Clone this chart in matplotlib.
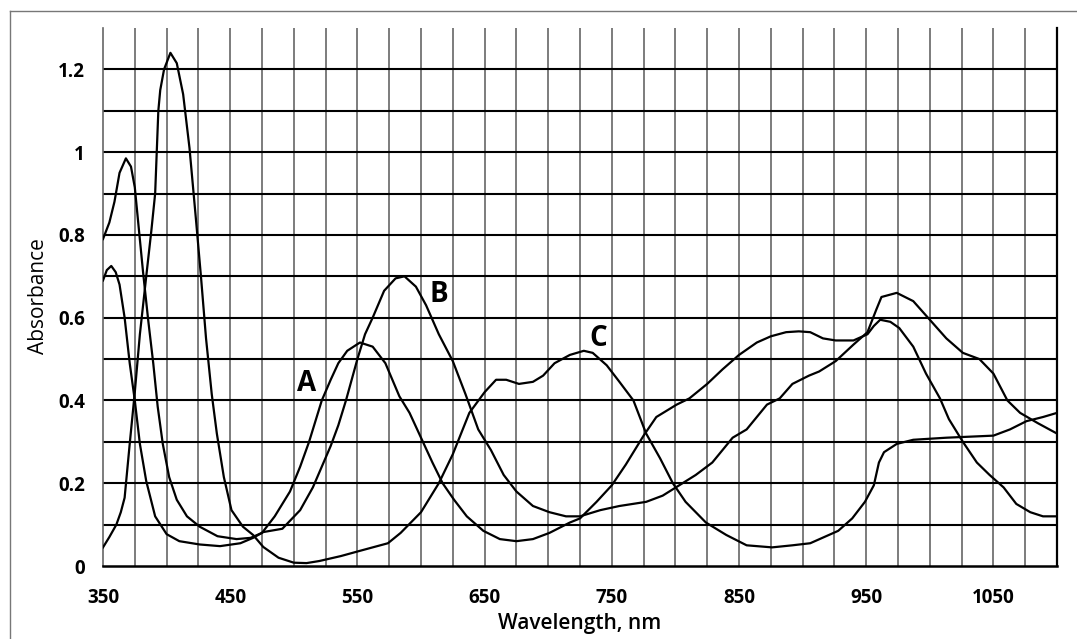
import matplotlib
matplotlib.use("Agg")
import matplotlib.pyplot as plt
from matplotlib.lines import Line2D
import numpy as np

# ---------------- data ----------------
wl_1 = [350, 355, 359, 363, 368, 372, 375, 378, 381.5, 385.5, 389.5, 393, 397, 402, 408, 416, 426,
        440, 455, 466, 475, 485, 497, 505, 512, 522, 529, 535, 542, 552, 562, 572, 583, 591, 600,
        609, 617, 626, 636, 649, 662, 675, 688, 701, 717, 725, 738, 750, 761, 775, 785, 801, 811,
        825, 837, 850, 864, 875, 887, 897, 906, 916, 926, 940, 951, 956, 961, 969, 976, 987, 997,
        1008, 1015, 1026, 1037, 1047, 1058, 1068, 1079, 1089, 1100]
abs_1 = [0.79, 0.83, 0.88, 0.95, 0.985, 0.965, 0.915, 0.82, 0.71, 0.595, 0.49, 0.385, 0.295, 0.215,
         0.16, 0.12, 0.095, 0.072, 0.065, 0.068, 0.08, 0.12, 0.18, 0.24, 0.3, 0.4, 0.45, 0.49, 0.52,
         0.54, 0.53, 0.49, 0.41, 0.37, 0.31, 0.25, 0.2, 0.16, 0.12, 0.085, 0.065, 0.06, 0.065, 0.08,
         0.105, 0.115, 0.155, 0.195, 0.245, 0.315, 0.36, 0.39, 0.405, 0.44, 0.475, 0.51, 0.54, 0.555,
         0.565, 0.567, 0.565, 0.55, 0.545, 0.545, 0.56, 0.58, 0.595, 0.59, 0.575, 0.53, 0.465, 0.405,
         0.355, 0.3, 0.25, 0.22, 0.19, 0.15, 0.13, 0.12, 0.12]

wl_2 = [350, 353, 356.5, 360, 363, 367, 371, 375, 379, 384, 391, 400, 410, 426, 442, 458, 468, 476,
        491, 505, 515, 522, 529, 535, 541, 550, 556, 562, 571, 580, 587, 596, 604, 614, 625, 635,
        645, 655, 665, 675, 688, 701, 714, 725, 741, 756, 777, 790, 803, 816, 829, 845, 856, 872,
        882, 892, 905, 913, 926, 940, 951, 958, 962, 974, 987, 1000, 1013, 1026, 1039, 1050, 1061,
        1071, 1085, 1100]
abs_2 = [0.69, 0.715, 0.725, 0.71, 0.68, 0.6, 0.49, 0.4, 0.295, 0.205, 0.12, 0.077, 0.06, 0.052,
         0.048, 0.055, 0.068, 0.082, 0.09, 0.135, 0.19, 0.24, 0.29, 0.34, 0.4, 0.5, 0.56, 0.6, 0.665,
         0.695, 0.7, 0.675, 0.63, 0.56, 0.495, 0.415, 0.33, 0.28, 0.22, 0.18, 0.145, 0.13, 0.12,
         0.12, 0.135, 0.145, 0.155, 0.17, 0.195, 0.22, 0.25, 0.31, 0.33, 0.39, 0.405, 0.44, 0.46,
         0.47, 0.495, 0.535, 0.565, 0.62, 0.65, 0.66, 0.64, 0.595, 0.55, 0.515, 0.5, 0.465, 0.4,
         0.37, 0.345, 0.32]

wl_3 = [350, 355, 360.5, 364, 367, 371, 375, 379, 384, 388, 391, 393.5, 395, 398, 403, 408, 413,
        418, 423, 427, 431, 435.5, 439.5, 445, 451, 460, 468, 476, 488, 500, 510, 520, 537, 550,
        574, 584, 600, 614, 625, 638, 650, 659, 667, 677, 688, 696, 705, 717, 728, 735, 746, 756,
        767, 777, 788, 798, 808, 824, 840, 856, 876, 892, 906, 917, 928, 939, 949, 956, 960, 964,
        974, 987, 1013, 1050, 1063, 1076, 1089, 1100]
abs_3 = [0.045, 0.07, 0.1, 0.13, 0.165, 0.295, 0.42, 0.56, 0.7, 0.81, 0.9, 1.1, 1.15, 1.2, 1.24,
         1.215, 1.14, 1.01, 0.84, 0.7, 0.55, 0.415, 0.32, 0.215, 0.135, 0.095, 0.075, 0.046, 0.02,
         0.008, 0.007, 0.012, 0.024, 0.035, 0.055, 0.08, 0.13, 0.2, 0.27, 0.37, 0.42, 0.45, 0.45,
         0.44, 0.445, 0.46, 0.49, 0.51, 0.52, 0.515, 0.485, 0.445, 0.4, 0.32, 0.26, 0.2, 0.155,
         0.105, 0.075, 0.05, 0.045, 0.05, 0.055, 0.07, 0.085, 0.115, 0.155, 0.195, 0.25, 0.275,
         0.295, 0.305, 0.31, 0.315, 0.33, 0.35, 0.36, 0.37]

x_ticks = [350, 450, 550, 650, 750, 850, 950, 1050]
x_ticklabels = ["350", "450", "550", "650", "750", "850", "950", "1050"]
y_ticks = [0, 0.2, 0.4, 0.6, 0.8, 1.0, 1.2]
y_ticklabels = ["0", "0.2", "0.4", "0.6", "0.8", "1", "1.2"]

curve_labels = ["A", "B", "C"]
label_pos = [(510, 0.44), (614, 0.655), (739, 0.55)]

# ---------------- figure ----------------
plt.rcParams['font.family'] = ['Open Sans', 'DejaVu Sans']
fig = plt.figure(figsize=(10.77, 6.39), dpi=100)
W, H = 1077, 639
ax = fig.add_axes([103 / W, 1 - 566 / H, (1057 - 103) / W, (566 - 28) / H])

ax.set_xlim(350, 1100)
ax.set_ylim(0, 1.3)

# grid
for xv in np.arange(375, 1100, 25):
    ax.axvline(xv, color='#666666', lw=1.2, zorder=1)
for yv in np.arange(0.1, 1.25, 0.1):
    ax.axhline(yv, color='black', lw=1.5, zorder=1)

for wl, ab in [(wl_1, abs_1), (wl_2, abs_2), (wl_3, abs_3)]:
    ax.plot(wl, ab, color='black', lw=1.6, zorder=3, solid_joinstyle='round')

for lab, (xp, yp) in zip(curve_labels, label_pos):
    ax.text(xp, yp, lab, fontsize=20, fontweight='bold', ha='center', va='center', zorder=4)

ax.spines['top'].set_visible(False)
ax.spines['left'].set_color('#666666')
ax.spines['left'].set_linewidth(1.2)
ax.spines['right'].set_color('black')
ax.spines['right'].set_linewidth(1.6)
ax.spines['bottom'].set_color('black')
ax.spines['bottom'].set_linewidth(1.8)

ax.set_xticks(x_ticks)
ax.set_xticklabels(x_ticklabels, fontsize=13.5, fontweight='bold')
ax.set_yticks(y_ticks)
ax.set_yticklabels(y_ticklabels, fontsize=13.5, fontweight='bold')
ax.tick_params(axis='x', length=0, pad=16)
ax.tick_params(axis='y', length=0, pad=13)

fig.text(39 / W, 1 - 296 / H, "Absorbance", rotation=90, ha='center', va='center', fontsize=15)
fig.text(580 / W, 1 - 624 / H, "Wavelength, nm", ha='center', va='center', fontsize=15,
         fontweight='semibold')

# outer frame
fig.add_artist(Line2D([10 / W, 10 / W], [0, 1 - 11 / H], transform=fig.transFigure,
                      color='#777777', lw=1.0))
fig.add_artist(Line2D([10 / W, 1], [1 - 11 / H, 1 - 11 / H], transform=fig.transFigure,
                      color='#777777', lw=1.0))

fig.savefig("out.png", dpi=100)
